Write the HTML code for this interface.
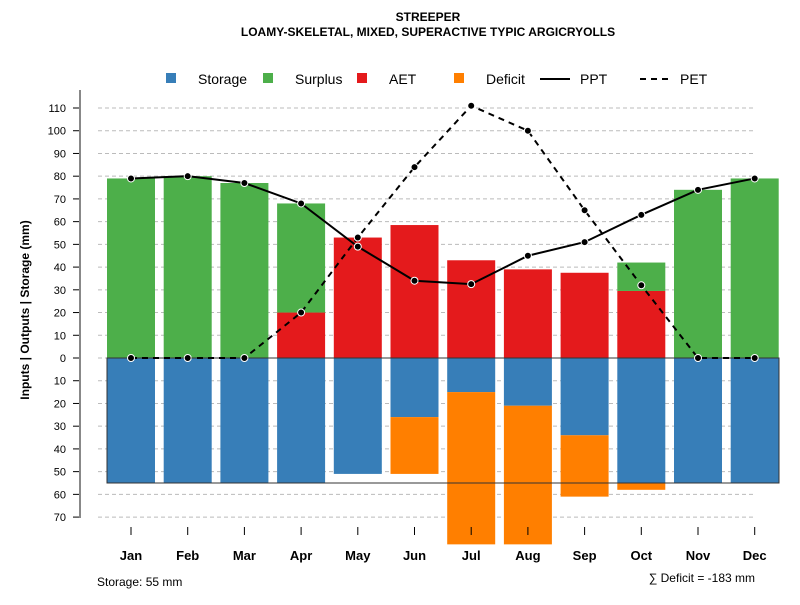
<!DOCTYPE html>
<html><head><meta charset="utf-8"><style>
body{margin:0;background:#fff;font-family:"Liberation Sans",sans-serif}
svg text{font-family:"Liberation Sans",sans-serif}
</style></head><body>
<svg id="c" width="800" height="600" xmlns="http://www.w3.org/2000/svg">
<text x="428" y="21" text-anchor="middle" font-size="12" font-weight="bold">STREEPER</text>
<text x="428" y="36" text-anchor="middle" font-size="12" font-weight="bold">LOAMY-SKELETAL, MIXED, SUPERACTIVE TYPIC ARGICRYOLLS</text>
<g id="legend"></g>
<g id="grid"></g><g id="bars"></g><g id="lines"></g><g id="axes"></g>
<text transform="translate(29,310) rotate(-90)" text-anchor="middle" font-size="12" font-weight="bold">Inputs | Outputs | Storage    (mm)</text>
<text x="97" y="586" font-size="12">Storage: 55 mm</text>
<text x="755" y="582" text-anchor="end" font-size="12">∑ Deficit = -183 mm</text>
</svg>
<script>
const months=["Jan","Feb","Mar","Apr","May","Jun","Jul","Aug","Sep","Oct","Nov","Dec"];
const storage=[55,55,55,55,51,26,15,21,34,55,55,55];
const deficit=[0,0,0,0,0,25,67,61,27,3,0,0];
const aet=[0,0,0,20,53,58.5,43,39,37.5,29.5,0,0];
const surplus=[79,80,77,48,0,0,0,0,0,12.5,74,79];
const ppt=[79,80,77,68,49,34,32.5,45,51,63,74,79];
const pet=[0,0,0,20,53,84,111,100,65,32,0,0];
const yTicks=[110,100,90,80,70,60,50,40,30,20,10,0,-10,-20,-30,-40,-50,-60,-70];
const capacity=55;
const NS="http://www.w3.org/2000/svg";
const y=v=>358-v*2.2727;
const x=i=>131+i*56.7;
const bw=48;
function mk(p,t,a){const e=document.createElementNS(NS,t);for(const k in a)e.setAttribute(k,a[k]);document.getElementById(p).appendChild(e);return e;}
yTicks.forEach(t=>{
 const g=mk('grid','line',{x1:98,x2:755,y1:y(t),y2:y(t),stroke:'#bbb','stroke-dasharray':'4,3'});
 
 
 const tk=mk('axes','line',{x1:73,x2:80,y1:y(t),y2:y(t),stroke:'#000'});
 
 
 const l=mk('axes','text',{x:66,y:y(t)+4,'text-anchor':'end','font-size':11});
 l.textContent=Math.abs(t);
 
 
});
const ax=mk('axes','line',{x1:80,x2:80,y1:90,y2:518,stroke:'#888','stroke-width':2});


function bar(v0,v1,i,col,name){
 const r=mk('bars','rect',{x:x(i)-bw/2,y:Math.min(y(v0),y(v1)),width:bw,height:Math.abs(y(v0)-y(v1)),fill:col});
 
 
}
months.forEach((m,i)=>{
 bar(0,-storage[i],i,'#377EB8','storage-bar-'+m.toLowerCase());
 if(deficit[i])bar(-storage[i],-storage[i]-deficit[i],i,'#FF7F00','deficit-bar-'+m.toLowerCase());
 if(aet[i])bar(0,aet[i],i,'#E41A1C','aet-bar-'+m.toLowerCase());
 if(surplus[i])bar(aet[i],aet[i]+surplus[i],i,'#4DAF4A','surplus-bar-'+m.toLowerCase());
 const tk=mk('axes','line',{x1:x(i),x2:x(i),y1:527,y2:535,stroke:'#000'});
 
 
 const t=mk('axes','text',{x:x(i),y:560,'text-anchor':'middle','font-size':13,'font-weight':'bold'});
 t.textContent=m;
 
 
});
const box=mk('bars','rect',{x:107,y:y(0),width:672,height:y(-capacity)-y(0),fill:'none',stroke:'#333','stroke-width':1});


function series(arr,dash,name){
 const p=mk('lines','polyline',{points:arr.map((v,i)=>x(i)+','+y(v)).join(' '),fill:'none',stroke:'#000','stroke-width':2,'stroke-dasharray':dash});
 
 
 arr.forEach((v,i)=>{
  const c=mk('lines','circle',{cx:x(i),cy:y(v),r:3.5,fill:'#000',stroke:'#fff','stroke-width':1});
  
  
 });
}
series(pet,'6,5','pet');
series(ppt,'none','ppt');
const leg=[["Storage","#377EB8",166,'box'],["Surplus","#4DAF4A",263,'box'],["AET","#E41A1C",357,'box'],["Deficit","#FF7F00",454,'box'],["PPT","",540,'line'],["PET","",640,'dash']];
leg.forEach(L=>{
 let s;
 if(L[3]==='box')s=mk('legend','rect',{x:L[2],y:73,width:10,height:10,fill:L[1]});
 else s=mk('legend','line',{x1:L[2],x2:L[2]+30,y1:79,y2:79,stroke:'#000','stroke-width':2,'stroke-dasharray':L[3]==='dash'?'6,5':'none'});
 
 
 const t=mk('legend','text',{x:L[3]==='box'?L[2]+32:L[2]+40,y:84,'font-size':14});
 t.textContent=L[0];
 
 
});
</script>
</body></html>
